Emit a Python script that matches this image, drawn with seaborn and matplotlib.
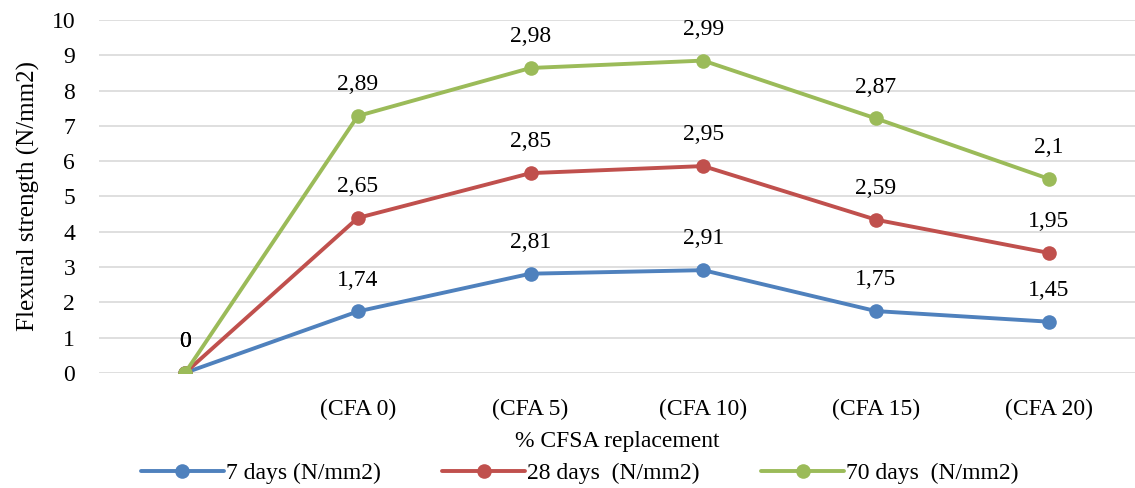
import matplotlib
matplotlib.use("Agg")
import matplotlib.pyplot as plt
import seaborn as sns
import numpy as np
import pandas as pd

categories = ["", "(CFA 0)", "(CFA 5)", "(CFA 10)", "(CFA 15)", "(CFA 20)"]
series_names = ["7 days (N/mm2)", "28 days  (N/mm2)", "70 days  (N/mm2)"]
days7 = [0, 1.74, 2.81, 2.91, 1.75, 1.45]
days28 = [0, 2.65, 2.85, 2.95, 2.59, 1.95]
days70 = [0, 2.89, 2.98, 2.99, 2.87, 2.1]
colors = ["#4F81BD", "#C0504D", "#9BBB59"]

sns.set_theme(style="white")
plt.rcParams["font.family"] = ["Liberation Serif", "DejaVu Serif"]

# stacked line chart: each series sits on top of the previous ones
series = [days7, days28, days70]
stacked = np.cumsum(np.array(series, dtype=float), axis=0)

rows = []
for name, vals, tops in zip(series_names, series, stacked):
    for i, (v, t) in enumerate(zip(vals, tops)):
        rows.append({"pos": i, "value": v, "top": t, "series": name})
df = pd.DataFrame(rows)

fig = plt.figure(figsize=(11.35, 4.88), dpi=100)
ax = fig.add_axes([0.087, 0.236, 0.913, 0.723])

sns.lineplot(data=df, x="pos", y="top", hue="series", hue_order=series_names,
             palette=colors, marker="o", markersize=10.5, markeredgewidth=0,
             linewidth=2.8, ax=ax, legend=True, sort=False)

for name in series_names:
    sub = df[df["series"] == name]
    for _, r in sub.iterrows():
        lab = f"{r['value']:g}".replace(".", ",")
        ax.annotate(lab, (r["pos"], r["top"]), xytext=(0, 15), textcoords="offset points",
                    ha="center", va="bottom", fontsize=17, color="black")

ax.set_xlim(-0.5, 5.5)
ax.set_ylim(0, 10)
ax.set_yticks(range(0, 11))
ax.set_xticks(range(len(categories)))
ax.set_xticklabels(categories)
ax.tick_params(axis="both", labelsize=17, length=0, colors="black")
ax.tick_params(axis="x", pad=19)
ax.tick_params(axis="y", pad=17)
ax.grid(axis="y", color="#D9D9D9", linewidth=1.2)
ax.set_axisbelow(True)
for s in ax.spines.values():
    s.set_visible(False)
ax.set_ylabel("Flexural strength (N/mm2)", fontsize=18, color="black", labelpad=8)
ax.set_xlabel("% CFSA replacement", fontsize=17, color="black", labelpad=8)

handles, labels = ax.get_legend_handles_labels()
ax.get_legend().remove()
leg = fig.legend(handles, labels, loc="lower center", bbox_to_anchor=(0.511, -0.035), ncol=3,
                 frameon=False, fontsize=17, handlelength=3.5, columnspacing=2.6,
                 handletextpad=0.1)
for t in leg.get_texts():
    t.set_color("black")

fig.savefig("out.png", dpi=100)
